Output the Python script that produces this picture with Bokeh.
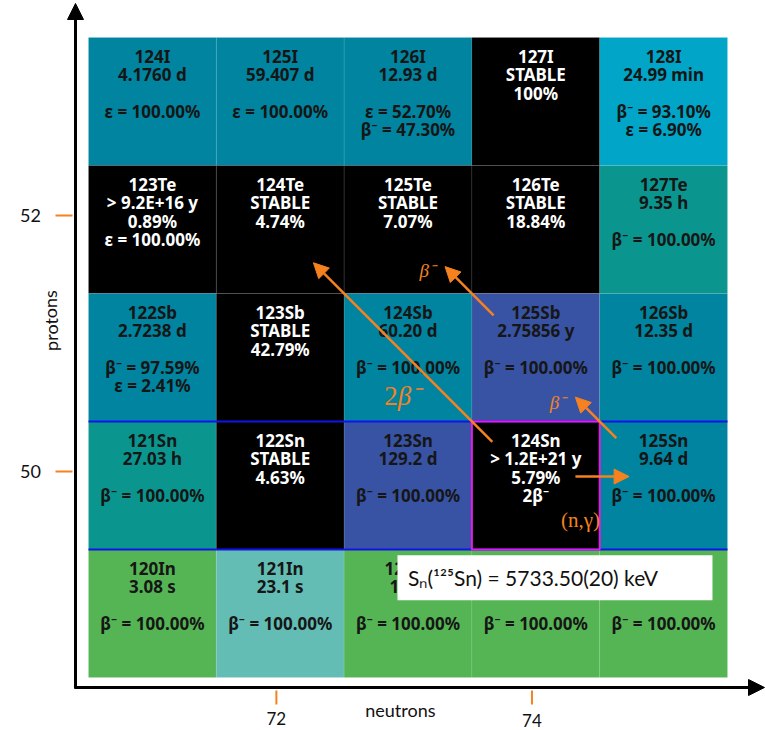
from bokeh.plotting import figure
from bokeh.models import Range1d, ColumnDataSource, Arrow, NormalHead
from bokeh.core.properties import value
from bokeh.embed import file_html
from bokeh.resources import INLINE

# ---- nuclide data (rows from iodine down to indium) ----
nuclide = ["124I", "125I", "126I", "127I", "128I",
           "123Te", "124Te", "125Te", "126Te", "127Te",
           "122Sb", "123Sb", "124Sb", "125Sb", "126Sb",
           "121Sn", "122Sn", "123Sn", "124Sn", "125Sn",
           "120In", "121In", "122In", "123In", "124In"]
neutrons = [71, 72, 73, 74, 75] * 5
protons = [53] * 5 + [52] * 5 + [51] * 5 + [50] * 5 + [49] * 5
half_life = ["4.1760 d", "59.407 d", "12.93 d", "STABLE", "24.99 min",
             "> 9.2E+16 y", "STABLE", "STABLE", "STABLE", "9.35 h",
             "2.7238 d", "STABLE", "60.20 d", "2.75856 y", "12.35 d",
             "27.03 h", "STABLE", "129.2 d", "> 1.2E+21 y", "9.64 d",
             "3.08 s", "23.1 s", "1.5 s", "6.17 s", "3.12 s"]
abundance = ["", "", "", "100%", "",
             "0.89%", "4.74%", "7.07%", "18.84%", "",
             "", "42.79%", "", "", "",
             "", "4.63%", "", "5.79%", "",
             "", "", "", "", ""]
decay_modes = [["ε = 100.00%"], ["ε = 100.00%"], ["ε = 52.70%", "β⁻ = 47.30%"], [], ["β⁻ = 93.10%", "ε = 6.90%"],
               ["ε = 100.00%"], [], [], [], ["β⁻ = 100.00%"],
               ["β⁻ = 97.59%", "ε = 2.41%"], [], ["β⁻ = 100.00%"], ["β⁻ = 100.00%"], ["β⁻ = 100.00%"],
               ["β⁻ = 100.00%"], [], ["β⁻ = 100.00%"], ["2β⁻"], ["β⁻ = 100.00%"],
               ["β⁻ = 100.00%"], ["β⁻ = 100.00%"], ["β⁻ = 100.00%"], ["β⁻ = 100.00%"], ["β⁻ = 100.00%"]]

# axis ticks
x_ticks = [72, 74]
y_ticks = [50, 52]

# reactions drawn as arrows: (from, to, multiplicity prefix, label)
reactions = [("124Sn", "124Te", "2", "β⁻"),
             ("125Sb", "125Te", "", "β⁻"),
             ("125Sn", "125Sb", "", "β⁻"),
             ("124Sn", "125Sn", "", "(n,γ)")]

separation_energy = "5733.50(20)"

# ---- colours ----
C_EC = "#00849f"
C_LIGHT = "#00a5c7"
C_TEAL = "#0a968f"
C_BLUE = "#3853a4"
C_GREEN = "#55b555"
C_PALE = "#63bdb4"
C_STABLE = "#000000"
cell_color = [C_EC, C_EC, C_EC, C_STABLE, C_LIGHT,
              C_STABLE, C_STABLE, C_STABLE, C_STABLE, C_TEAL,
              C_EC, C_STABLE, C_EC, C_BLUE, C_EC,
              C_TEAL, C_STABLE, C_BLUE, C_STABLE, C_EC,
              C_GREEN, C_PALE, C_GREEN, C_GREEN, C_GREEN]
ORANGE = "#f5821f"
INK = "#111111"

# ---- geometry of the canvas (cell = 1 unit) ----
W, H = 765, 730
px_x, px_y = 127.8, 128.0
left = min(neutrons) - 0.5
right = max(neutrons) + 0.5
bottom = min(protons) - 0.5
top = max(protons) + 0.5
x0 = left - 88 / px_x
x1 = x0 + W / px_x
y1 = top + 37 / px_y
y0 = y1 - H / px_y

p = figure(width=W, height=H, x_range=Range1d(x0, x1), y_range=Range1d(y0, y1),
           x_axis_type=None, y_axis_type=None, toolbar_location=None,
           output_backend="svg", min_border=0)
p.grid.visible = False
p.outline_line_color = None
p.background_fill_color = "white"
p.border_fill_color = "white"

# cells
cells = ColumnDataSource(dict(x=neutrons, y=protons, color=cell_color))
p.rect(x="x", y="y", width=1, height=1, source=cells, fill_color="color",
       line_color="white", line_alpha=0.08, line_width=1)

# magic number Z = 50 borders
p.segment(x0=[left, left], y0=[49.5, 50.5], x1=[right, right], y1=[49.5, 50.5],
          line_color="#1212ee", line_width=2)

# highlighted nuclide
idx_sn = nuclide.index("124Sn")
p.rect(x=[neutrons[idx_sn]], y=[protons[idx_sn]], width=1, height=1,
       fill_color=None, line_color="#e619e6", line_width=2)

# cell texts
tx, ty, tt, tc = [], [], [], []
step = 18.3 / px_y
first = 19 / px_y
for i, name in enumerate(nuclide):
    if half_life[i] == "STABLE":
        lines = [name, "STABLE", abundance[i]]
    elif abundance[i]:
        lines = [name, half_life[i], abundance[i]] + decay_modes[i]
    else:
        lines = [name, half_life[i], ""] + decay_modes[i]
    col = "white" if cell_color[i] == C_STABLE else "#161616"
    for k, ln in enumerate(lines):
        if not ln:
            continue
        tx.append(neutrons[i])
        ty.append(protons[i] + 0.5 - first - k * step)
        tt.append(ln)
        tc.append(col)
p.text(x="x", y="y", text="text", text_color="color",
       source=ColumnDataSource(dict(x=tx, y=ty, text=tt, color=tc)),
       text_align="center", text_baseline="middle",
       text_font=value("Noto Sans"), text_font_style="bold", text_font_size="17px")

# reaction arrows
def pos(name):
    j = nuclide.index(name)
    return neutrons[j], protons[j]

arrow_style = {"124Sn>124Te": (0.17, 0.87, 0.0, (-1.08, 0.70), "27px"),
               "125Sb>125Te": (0.33, 0.71, 0.0, (-0.85, 0.68), "19px"),
               "125Sn>125Sb": (0.37, 0.69, 0.0, (-0.83, 0.65), "19px"),
               "124Sn>125Sn": (0.31, 0.73, 0.07, (0.35, -0.27), "21px")}
for src, dst, mult, lab in reactions:
    t0, t1, lift, (dx, dy), fs = arrow_style[src + ">" + dst]
    sx, sy = pos(src)
    ex, ey = pos(dst)
    ax0, ay0 = sx + (ex - sx) * t0, sy + (ey - sy) * t0 + lift
    ax1, ay1 = sx + (ex - sx) * t1, sy + (ey - sy) * t1 + lift
    p.add_layout(Arrow(end=NormalHead(size=15, fill_color=ORANGE, line_color=ORANGE),
                       x_start=ax0, y_start=ay0, x_end=ax1, y_end=ay1,
                       line_color=ORANGE, line_width=2.5))
    if mult:
        p.text(x=[sx + dx], y=[sy + dy], text=[mult], text_color=ORANGE,
               text_align="right", text_baseline="middle",
               text_font=value("Liberation Serif"), text_font_size=fs)
        p.text(x=[sx + dx], y=[sy + dy], text=[lab], text_color=ORANGE,
               text_align="left", text_baseline="middle",
               text_font=value("Liberation Serif"), text_font_style="italic",
               text_font_size=fs)
    else:
        style = "normal" if lab.startswith("(") else "italic"
        p.text(x=[sx + dx], y=[sy + dy], text=[lab], text_color=ORANGE,
               text_align="center", text_baseline="middle",
               text_font=value("Liberation Serif"), text_font_style=style,
               text_font_size=fs)

# neutron separation energy box
bx, by = 74.15, bottom + 0.5 + 0.28
p.rect(x=[bx], y=[by], width=315, height=45, width_units="screen", height_units="screen",
       fill_color="white", line_color=None)
p.text(x=[bx - 1.15], y=[by], text=["Sₙ(¹²⁵Sn) = " + separation_energy + " keV"],
       text_align="left", text_baseline="middle", text_color=INK,
       text_font=value("Lato"), text_font_size="21px")

# axes with arrow heads
ax_x = left - 13 / px_x
ax_y = bottom - 10 / px_y
p.add_layout(Arrow(end=NormalHead(size=16, fill_color="black", line_color="black"),
                   x_start=ax_x, y_start=ax_y - 1 / px_y, x_end=ax_x, y_end=y1 - 3 / px_y,
                   line_color="black", line_width=3))
p.add_layout(Arrow(end=NormalHead(size=16, fill_color="black", line_color="black"),
                   x_start=ax_x - 1 / px_x, y_start=ax_y, x_end=x1 - 1 / px_x, y_end=ax_y,
                   line_color="black", line_width=3))

# ticks
xs = [t - 0.03 for t in x_ticks]
p.segment(x0=xs, y0=[ax_y - 3 / px_y] * 2, x1=xs, y1=[ax_y - 17 / px_y] * 2,
          line_color=ORANGE, line_width=2)
p.text(x=xs, y=[ax_y - 31 / px_y, ax_y - 33 / px_y], text=[str(t) for t in x_ticks],
       text_align="center", text_baseline="middle", text_color=INK,
       text_font=value("Lato"), text_font_size="17px")
ys = [t + 0.11 for t in y_ticks]
p.segment(x0=[ax_x - 20 / px_x] * 2, y0=ys, x1=[ax_x - 3 / px_x] * 2, y1=ys,
          line_color=ORANGE, line_width=2)
p.text(x=[ax_x - 45 / px_x] * 2, y=ys, text=[str(t) for t in y_ticks],
       text_align="center", text_baseline="middle", text_color=INK,
       text_font=value("Lato"), text_font_size="18px")

# axis titles
p.text(x=[(left + right) / 2 - 0.06], y=[ax_y - 22 / px_y], text=["neutrons"],
       text_align="center", text_baseline="middle", text_color=INK,
       text_font=value("Lato"), text_font_size="18px")
p.text(x=[ax_x - 25 / px_x], y=[y1 - 320 / px_y], text=["protons"], angle=1.5708,
       text_align="center", text_baseline="middle", text_color=INK,
       text_font=value("Lato"), text_font_size="18px")

open("out.html", "w").write(file_html(p, INLINE))
